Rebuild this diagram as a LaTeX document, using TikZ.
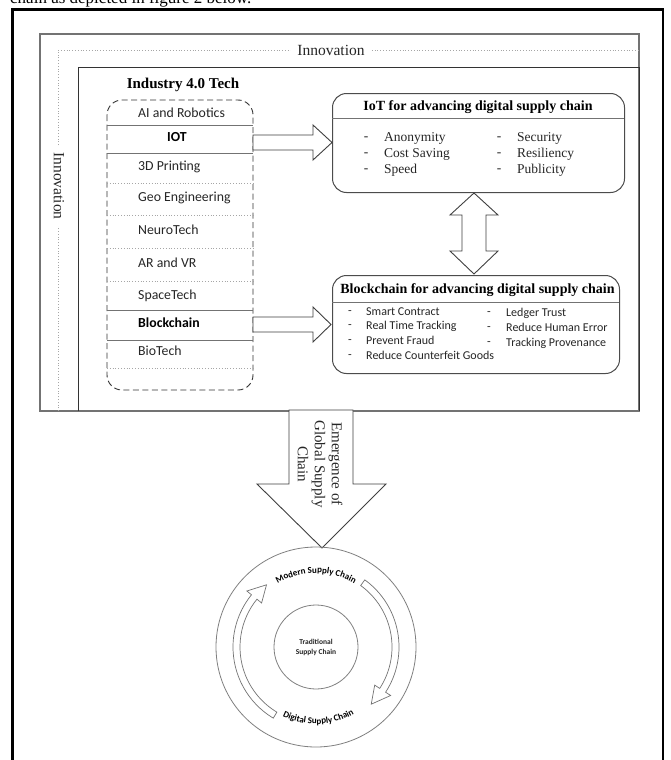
\documentclass[tikz,border=0pt]{standalone}
\usepackage{fontspec}
\setmainfont{Liberation Serif}
\newfontfamily\calib{Carlito}
\usetikzlibrary{decorations.text}
\tikzset{
  frame/.style={draw=black, line width=2.6pt},
  graybox/.style={draw=black!55, line width=1.1pt},
  dotline/.style={draw=black!35, dotted, line width=0.8pt},
  innerbox/.style={draw=black!80, line width=0.8pt},
  innotext/.style={fill=white, inner xsep=6pt, inner ysep=1pt, font=\fontsize{15.5}{18}\selectfont, text=black!85},
  listtxt/.style={anchor=west, inner sep=0pt, text height=0.7em, text depth=0.2em, font=\calib\fontsize{13.8}{16}\selectfont, text=black!85},
  listbold/.style={listtxt, font=\calib\bfseries\fontsize{13.8}{16}\selectfont, text=black},
  sepsolid/.style={draw=black!55, line width=0.8pt},
  sepdot/.style={draw=black!35, dotted, line width=0.8pt},
  dashbox/.style={draw=black!80, dash pattern=on 6pt off 3.5pt, rounded corners=15pt, line width=0.9pt},
  rbox/.style={draw=black!70, rounded corners=14pt, line width=1pt, rectangle},
  titletxt/.style={inner sep=0pt, font=\bfseries\fontsize{14}{16}\selectfont},
  itemT/.style={anchor=west, inner sep=0pt, text height=0.7em, text depth=0.2em, font=\fontsize{13.5}{15}\selectfont, text=black!85},
  itemC/.style={anchor=west, inner sep=0pt, text height=0.7em, text depth=0.2em, font=\calib\fontsize{12}{14}\selectfont, text=black!85},
  dashT/.style={inner sep=0pt, font=\fontsize{13.5}{15}\selectfont, text=black!85},
  dashC/.style={inner sep=0pt, font=\calib\fontsize{12}{14}\selectfont, text=black!85},
  blockarrow/.style={draw=black!75, line width=0.9pt, fill=white},
  circ/.style={circle, draw=black!50, line width=0.8pt, inner sep=0pt},
  curvearrow/.style={draw=black!55, line width=0.7pt, fill=white},
}
\begin{document}
\begin{tikzpicture}[x=1pt,y=1pt]
\useasboundingbox (0,0) rectangle (670,-760);
\clip (0,0) rectangle (670,-760);
\fill[white] (0,0) rectangle (670,-760);

% cut-off text line at the top
\node[anchor=base west, inner sep=0pt, font=\fontsize{17}{20}\selectfont] (intro) at (10,-4) {chain as depicted in figure 2 below.};

% outer frame
\draw[frame] (12.5,-775) -- (12.5,-9.5) -- (663,-9.5) -- (663,-775);

% grey figure box
\draw[graybox] (40,-34) rectangle (639,-411);

% innovation dotted frame
\draw[dotline] (58,-411) -- (58,-50) -- (639,-50);
\node[innotext] (innotop) at (331,-50) {Innovation};
\node[innotext, rotate=-90] (innoleft) at (59,-186) {Innovation};

% inner solid box
\draw[innerbox] (78,-411) -- (78,-67) -- (639,-67) -- (639,-411);

% Industry 4.0 list
\node[inner sep=0pt, font=\bfseries\fontsize{15}{18}\selectfont] (indtitle) at (183,-85) {Industry 4.0 Tech};
\draw[dashbox] (107,-100) rectangle (253,-390);
\foreach \yy in {125,153,310,340} \draw[sepsolid] (107,-\yy) -- (253,-\yy);
\foreach \yy in {183,215,248,281,368} \draw[sepdot] (107,-\yy) -- (253,-\yy);

\node[listtxt] (ai) at (138,-115) {AI and Robotics};
\node[listbold] (iot) at (167,-139) {IOT};
\node[listtxt] (print) at (138,-168) {3D Printing};
\node[listtxt] (geo) at (138,-199) {Geo Engineering};
\node[listtxt] (neuro) at (138,-232) {NeuroTech};
\node[listtxt] (arvr) at (138,-265) {AR and VR};
\node[listtxt] (space) at (138,-297) {SpaceTech};
\node[listbold] (block) at (138,-325) {Blockchain};
\node[listtxt] (bio) at (138,-353) {BioTech};

% IoT box
\node[rbox, anchor=north west, minimum width=292pt, minimum height=99pt] (iotbox) at (332,-93) {};
\draw[sepsolid] (332,-118) -- (624,-118);
\node[titletxt] (iottitle) at (478,-107) {IoT for advancing digital supply chain};
\node[dashT] (id1) at (366,-139) {-};
\node[itemT] (it1) at (384,-139) {Anonymity};
\node[dashT] (id2) at (366,-155) {-};
\node[itemT] (it2) at (384,-155) {Cost Saving};
\node[dashT] (id3) at (366,-171) {-};
\node[itemT] (it3) at (384,-171) {Speed};
\node[dashT] (id4) at (499,-139) {-};
\node[itemT] (it4) at (517,-139) {Security};
\node[dashT] (id5) at (499,-155) {-};
\node[itemT] (it5) at (517,-155) {Resiliency};
\node[dashT] (id6) at (499,-171) {-};
\node[itemT] (it6) at (517,-171) {Publicity};

% Blockchain box
\node[rbox, anchor=north west, minimum width=287pt, minimum height=98pt] (bcbox) at (332,-275) {};
\draw[sepsolid] (332,-302) -- (619,-302);
\node[titletxt] (bctitle) at (477.5,-290) {Blockchain for advancing digital supply chain};
\node[dashC] (bd1) at (350,-313) {-};
\node[itemC] (bt1) at (366,-313) {Smart Contract};
\node[dashC] (bd2) at (350,-327) {-};
\node[itemC] (bt2) at (366,-327) {Real Time Tracking};
\node[dashC] (bd3) at (350,-342) {-};
\node[itemC] (bt3) at (366,-342) {Prevent Fraud};
\node[dashC] (bd4) at (350,-357) {-};
\node[itemC] (bt4) at (366,-357) {Reduce Counterfeit Goods};
\node[dashC] (bd5) at (489,-314) {-};
\node[itemC] (bt5) at (506,-314) {Ledger Trust};
\node[dashC] (bd6) at (489,-329) {-};
\node[itemC] (bt6) at (506,-329) {Reduce Human Error};
\node[dashC] (bd7) at (489,-344) {-};
\node[itemC] (bt7) at (506,-344) {Tracking Provenance};

% block arrows
\draw[blockarrow] (253,-135) -- (313,-135) -- (313,-125) -- (332,-142.5) -- (313,-160) -- (313,-150) -- (253,-150) -- cycle;
\draw[blockarrow] (253,-317) -- (313,-317) -- (313,-307) -- (331,-324.5) -- (313,-342) -- (313,-332) -- (253,-332) -- cycle;
\draw[blockarrow] (474,-193) -- (498,-215) -- (486,-215) -- (486,-251) -- (498,-251) -- (474,-274) -- (450,-251) -- (462,-251) -- (462,-215) -- (450,-215) -- cycle;

% emergence arrow
\draw[blockarrow] (289,-410) -- (353,-410) -- (353,-484) -- (386,-484) -- (322,-548) -- (257,-484) -- (289,-484) -- cycle;
\node[rotate=-90, align=center, inner sep=0pt, font=\fontsize{15}{17}\selectfont, text=black!85] (emtext) at (320,-464) {Emergence of\\Global Supply\\Chain};

% supply chain circles
\node[circ, minimum size=200pt] (outer) at (316,-647) {};
\node[circ, minimum size=84pt, align=center, font=\calib\bfseries\fontsize{7.5}{10}\selectfont, text=black!85] (trad) at (316,-647) {Traditional\\Supply Chain};

\begin{scope}[shift={(316,-647)}]
  \path[decorate, decoration={text along path, text align=center,
    text={|\calib\bfseries\fontsize{9}{11}\selectfont|Modern Supply Chain}}]
    (150:74) arc[start angle=150, end angle=30, radius=74];
  \path[decorate, decoration={text along path, text align=center,
    text={|\calib\bfseries\fontsize{9}{11}\selectfont|Digital Supply Chain}}]
    (212:77) arc[start angle=212, end angle=332, radius=77];
  \draw[curvearrow] (54:83) arc[start angle=54, end angle=-33, radius=83] -- (-33:89) -- (-46:79.5) -- (-33:70) -- (-33:76) arc[start angle=-33, end angle=54, radius=76] -- cycle;
  \draw[curvearrow] (239:83) arc[start angle=239, end angle=141, radius=83] -- (141:89) -- (128.5:79.5) -- (141:70) -- (141:76) arc[start angle=141, end angle=239, radius=76] -- cycle;
\end{scope}
\end{tikzpicture}
\end{document}
